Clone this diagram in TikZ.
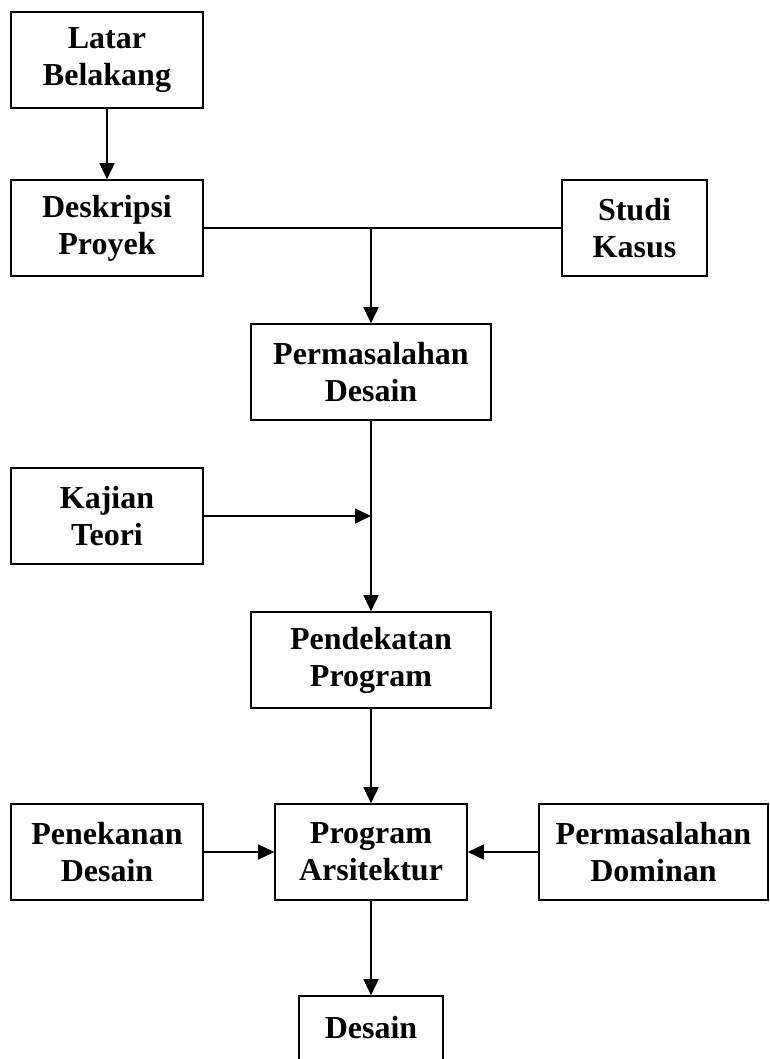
\documentclass[tikz,border=0pt]{standalone}
\usepackage{fontspec}
\setmainfont{Liberation Serif}
\usetikzlibrary{arrows.meta}
\begin{document}
\begin{tikzpicture}[x=1pt,y=-1pt,
  box/.style={draw,line width=1.6pt,rectangle,align=center,inner sep=0pt,
    font=\fontsize{32}{37}\selectfont\bfseries,minimum height=96pt},
  arr/.style={line width=1.6pt,-{Triangle[length=16pt,width=15pt]}},
  ln/.style={line width=1.6pt}]
\useasboundingbox (0,0) rectangle (769,1059);
\clip (0,0) rectangle (769,1059);
\node[box,minimum width=192pt] (lat) at (107,60) {Latar\\Belakang};
\node[box,minimum width=192pt] (desk) at (107,228) {Deskripsi\\Proyek};
\node[box,minimum width=145pt] (studi) at (634.5,228) {Studi\\Kasus};
\node[box,minimum width=240pt] (perm) at (371,372) {Permasalahan\\Desain};
\node[box,minimum width=192pt] (kaj) at (107,516) {Kajian\\Teori};
\node[box,minimum width=240pt] (pend) at (371,660) {Pendekatan\\Program};
\node[box,minimum width=192pt] (pen) at (107,852) {Penekanan\\Desain};
\node[box,minimum width=192pt] (prog) at (371,852) {Program\\Arsitektur};
\node[box,minimum width=229pt] (dom) at (653.5,852) {Permasalahan\\Dominan};
\node[box,minimum width=144pt,minimum height=64pt] (des) at (371,1028) {Desain};
\coordinate (j) at (desk.east -| perm.north);
\coordinate (k) at (kaj.east -| perm.south);
\draw[arr] (lat) -- (desk);
\draw[ln] (desk.east) -- (studi.west);
\draw[arr] (j) -- (perm.north);
\draw[arr] (perm) -- (pend);
\draw[arr] (kaj.east) -- (k);
\draw[arr] (pend) -- (prog);
\draw[arr] (pen) -- (prog);
\draw[arr] (dom) -- (prog);
\draw[arr] (prog) -- (des);
\end{tikzpicture}
\end{document}
